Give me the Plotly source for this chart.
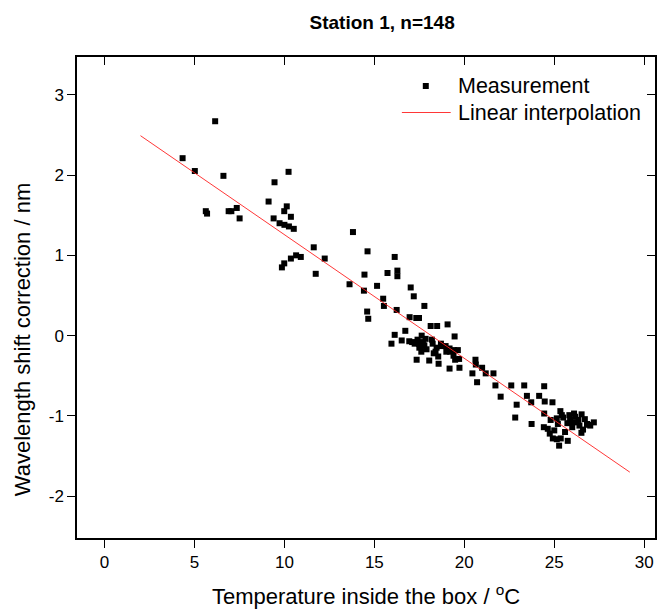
import plotly.graph_objects as go

# Measurement points: temperature (°C) and wavelength shift correction (nm)
temp = [
    6.15, 4.34, 5.02, 6.61, 10.23, 9.45, 9.12, 5.63, 5.70, 6.90, 7.05, 7.35, 7.51,
    10.13, 9.99, 10.36, 9.40, 9.73, 10.00, 10.25, 10.52, 11.63, 12.24, 10.65, 10.91,
    10.36, 9.99, 9.86, 11.74,
    13.81, 14.62, 16.13, 16.28, 16.28, 15.73, 14.45, 13.62, 15.15, 14.42, 17.02, 17.19,
    15.49, 15.53, 16.24, 17.78, 14.60, 14.66, 16.96, 17.33, 17.48, 18.13, 18.49, 19.07,
    16.72, 19.46, 16.13, 15.95, 16.52,
    16.94, 17.24, 17.48, 17.63, 17.85, 17.78, 17.59,
    18.24, 18.46, 18.74, 18.96, 19.18, 19.42, 19.64,
    17.61, 18.40, 18.55, 19.21, 17.35, 18.05, 18.57, 19.49, 19.71, 19.18, 19.73,
    20.62, 20.64, 20.99, 21.19, 20.45, 21.62, 20.71,
    21.73, 22.61, 23.33, 24.44, 22.02, 23.48, 23.72, 24.16, 24.47, 24.90, 22.91, 22.83,
    23.74, 24.44, 25.34, 25.42, 25.14, 25.84, 25.88, 25.73, 25.97, 26.34, 26.52, 26.23,
    26.82, 26.89, 26.60, 26.51, 24.42, 24.64, 24.75, 24.92, 25.14, 25.36, 25.27, 25.75,
    26.16, 27.00,
    17.10, 17.40, 17.70, 17.50, 17.90, 18.20, 18.70, 19.00, 19.40, 18.30,
    25.50, 26.00, 26.40, 25.00, 26.70, 25.60, 24.80, 27.20, 26.10, 25.20,
]
shift = [
    2.67, 2.21, 2.05, 1.99, 2.04, 1.91, 1.67, 1.55, 1.52, 1.55, 1.55, 1.59, 1.46,
    1.61, 1.55, 1.48, 1.46, 1.40, 1.38, 1.36, 1.33, 1.10, 0.96, 1.00, 0.98,
    0.96, 0.90, 0.85, 0.77,
    1.29, 1.05, 0.98, 0.81, 0.74, 0.78, 0.76, 0.64, 0.62, 0.56, 0.60, 0.49,
    0.46, 0.37, 0.32, 0.37, 0.30, 0.21, 0.23, 0.22, 0.22, 0.12, 0.12, 0.14,
    0.06, -0.01, 0.01, -0.10, -0.06,
    -0.07, -0.10, -0.10, 0.00, -0.04, -0.12, -0.13,
    -0.10, -0.15, -0.13, -0.13, -0.16, -0.18, -0.18,
    -0.20, -0.20, -0.26, -0.20, -0.30, -0.31, -0.35, -0.30, -0.29, -0.41, -0.40,
    -0.30, -0.36, -0.40, -0.47, -0.47, -0.47, -0.58,
    -0.62, -0.62, -0.62, -0.63, -0.76, -0.75, -0.83, -0.75, -0.82, -0.83, -0.86, -1.02,
    -1.10, -0.97, -0.94, -0.99, -1.03, -0.99, -1.05, -1.09, -1.08, -1.05, -0.98, -1.08,
    -1.10, -1.11, -1.17, -1.21, -1.14, -1.16, -1.22, -1.28, -1.29, -1.28, -1.37, -1.31,
    -1.01, -1.12,
    -0.08, -0.05, -0.08, -0.15, -0.17, -0.05, -0.10, -0.20, -0.25, -0.22,
    -1.02, -1.14, -1.12, -1.18, -1.04, -1.20, -1.05, -1.08, -0.97, -1.10,
]

# Linear interpolation end points
fit_x = [2.0, 29.2]
fit_y = [2.49, -1.70]

x_ticks = [0, 5, 10, 15, 20, 25, 30]
x_labels = ["0", "5", "10", "15", "20", "25", "30"]
y_ticks = [-2, -1, 0, 1, 2, 3]
y_labels = ["-2", "-1", "0", "1", "2", "3"]

legend_names = ["Measurement", "Linear interpolation"]
x_title = "Temperature inside the box / <sup>o</sup>C"
y_title = "Wavelength shift correction / nm"

FONT = "Liberation Sans, Arial, sans-serif"
X_RANGE = [-1.53, 30.6]
Y_RANGE = [-2.52, 3.47]

fig = go.Figure()
fig.add_trace(go.Scatter(
    x=temp, y=shift, mode="markers", name=legend_names[0],
    marker=dict(symbol="square", size=6, color="black"), showlegend=False,
))
fig.add_trace(go.Scatter(
    x=fit_x, y=fit_y, mode="lines", name=legend_names[1],
    line=dict(color="#ff2020", width=0.9), showlegend=False,
))
# invisible trace to carry the mirrored (inside-tick) axes
fig.add_trace(go.Scatter(
    x=[None], y=[None], xaxis="x2", yaxis="y2", showlegend=False,
    hoverinfo="skip", mode="markers",
))

axis_common = dict(
    showgrid=False, zeroline=False, showline=True, linecolor="black",
    linewidth=1.5, ticks="outside", ticklen=8, tickwidth=1, tickcolor="black",
    tickfont=dict(family=FONT, size=17, color="black"),
)

# Page geometry (px) -> fractions of the plot area for decorations
W, H = 660, 609
ML, MR, MT, MB = 77, 3, 57, 71
PW, PH = W - ML - MR, H - MT - MB


def px(x):
    return (x - ML) / PW


def py(y):
    return (H - MB - y) / PH


shapes = [
    dict(type="rect", xref="paper", yref="paper",
         x0=px(424), x1=px(430), y0=py(89), y1=py(83),
         fillcolor="black", line=dict(width=0)),
    dict(type="line", xref="paper", yref="paper",
         x0=px(403), x1=px(452), y0=py(112.5), y1=py(112.5),
         line=dict(color="#ff2020", width=0.9)),
]
annotations = [
    dict(text=legend_names[0], xref="paper", yref="paper", x=px(457.5), y=py(86),
         xanchor="left", yanchor="middle", showarrow=False,
         font=dict(family=FONT, size=21.5, color="black")),
    dict(text=legend_names[1], xref="paper", yref="paper", x=px(457.5), y=py(112.5),
         xanchor="left", yanchor="middle", showarrow=False,
         font=dict(family=FONT, size=21.5, color="black")),
    dict(text=y_title, xref="paper", yref="paper", x=px(22), y=py(340),
         xanchor="center", yanchor="middle", textangle=-90, showarrow=False,
         font=dict(family=FONT, size=22, color="black")),
]

fig.update_layout(
    width=W, height=H,
    margin=dict(l=ML, r=MR, t=MT, b=MB),
    paper_bgcolor="white", plot_bgcolor="white",
    title=dict(
        text="<b>Station 1, n=148</b>", x=0.579, xanchor="center",
        y=0.963, yanchor="middle",
        font=dict(family=FONT, size=19, color="black"),
    ),
    xaxis=dict(
        range=X_RANGE, tickvals=x_ticks, ticktext=x_labels, mirror=True,
        title=dict(text=x_title,
                   font=dict(family=FONT, size=22, color="black"), standoff=18),
        **axis_common,
    ),
    yaxis=dict(
        range=Y_RANGE, tickvals=y_ticks, ticktext=y_labels, mirror=True,
        **axis_common,
    ),
    xaxis2=dict(
        overlaying="x", side="top", matches="x", range=X_RANGE,
        tickvals=x_ticks, ticks="inside", ticklen=8, tickcolor="black",
        showticklabels=False, showgrid=False, zeroline=False, showline=False,
    ),
    yaxis2=dict(
        overlaying="y", side="right", matches="y", range=Y_RANGE,
        tickvals=y_ticks, ticks="inside", ticklen=8, tickcolor="black",
        showticklabels=False, showgrid=False, zeroline=False, showline=False,
    ),
    shapes=shapes,
    annotations=annotations,
    showlegend=False,
)

fig.write_html("out.html")
